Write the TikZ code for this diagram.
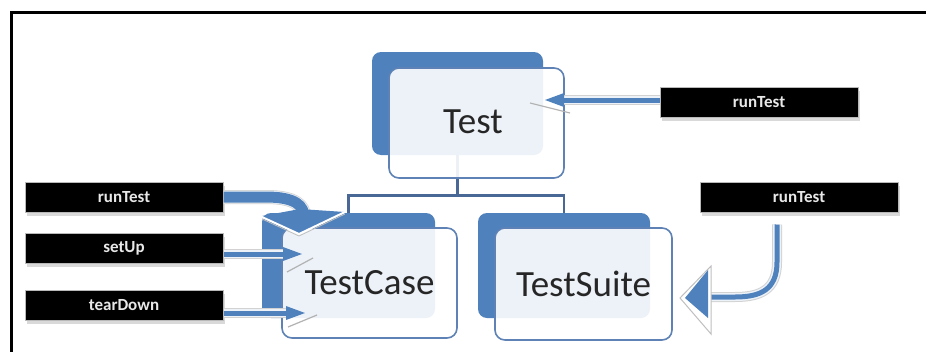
\documentclass[tikz,border=0pt]{standalone}
\usepackage{fontspec}
\setmainfont{Carlito}
\usetikzlibrary{calc,shadows}
\definecolor{obl}{HTML}{4F81BD}
\definecolor{oline}{HTML}{5E82B5}
\definecolor{connc}{HTML}{4A6896}
\begin{document}
\begin{tikzpicture}[x=1pt,y=-1pt,
  backbox/.style={fill=obl, draw=none, rounded corners=9pt, inner sep=0pt},
  frontbox/.style={fill=white, fill opacity=0.9, text opacity=1, draw=oline, line width=1.6pt,
     rounded corners=10pt, inner sep=0pt, minimum width=175pt, minimum height=110pt,
     font=\fontsize{37}{37}\selectfont, text=black!85},
  lbl/.style={fill=black, draw=gray!55, line width=1pt, minimum width=198pt, minimum height=30pt,
     inner sep=0pt, text=white!82!gray, font=\fontsize{17}{17}\selectfont\bfseries,
     drop shadow={shadow xshift=2pt, shadow yshift=-4pt, fill=gray!30, opacity=1}},
  connline/.style={draw=connc, line width=2.6pt},
  shaftO/.style={draw=gray!35, line width=10pt},
  shaftW/.style={draw=white!90!obl, line width=8pt},
  shaftB/.style={draw=obl, line width=5pt},
  headB/.style={fill=obl, draw=none},
  artif/.style={draw=gray!60, line width=1.2pt}
]
\useasboundingbox (0,0) rectangle (926,351);
\fill[white] (0,0) rectangle (926,351);
% frame
\draw[line width=3pt, line cap=rect] (11,351) -- (11,12) -- (926,12);

% back boxes
\node[backbox, minimum width=171pt, minimum height=103pt] (testB) at (457.5,103.5) {};
\node[backbox, minimum width=173pt, minimum height=105pt] (tcB) at (348.5,265.5) {};
\node[backbox, minimum width=172pt, minimum height=105pt] (tsB) at (564,265.5) {};

% connectors
\draw[connline] (testB.south) -- ++(0,40) -| (tcB.north);
\draw[connline] (testB.south) ++(0,40) -| (tsB.north);

% front boxes
\node[frontbox] (test) at (476.5,123) {\raisebox{3pt}{Test\hspace{7pt}}};
\node[frontbox] (tc) at (369.5,283) {TestCase};
\node[frontbox, minimum width=177pt, minimum height=112pt] (ts) at (583.5,284) {TestSuite};

% labels
\node[lbl] (lt) at (759,102) {runTest};
\node[lbl] (lts) at (799,197) {runTest};
\node[lbl] (lr) at (124,197) {runTest};
\node[lbl] (lsu) at (124,248) {setUp};
\node[lbl] (ltd) at (124,305) {tearDown};

% tip coordinates
\coordinate (ttip) at (545,100);
\coordinate (sutip) at (302,254);
\coordinate (tdtip) at (305,313);

% straight arrow into Test
\foreach \s in {shaftO,shaftW,shaftB}
  \draw[\s] (lt.west |- ttip) -- ($(ttip)+(16,0)$);
\fill[headB] (ttip) -- ++(19,-7) -- ++(0,14) -- cycle;
\draw[artif] ($(ttip)+(-15,3)$) -- ($(ttip)+(25,13)$);

% setUp arrow
\foreach \s in {shaftO,shaftW,shaftB}
  \draw[\s] (lsu.east |- sutip) -- ($(sutip)+(-16,0)$);
\fill[headB] (sutip) -- ++(-19,-7) -- ++(0,14) -- cycle;
\draw[artif] ($(sutip)+(-15,18)$) -- ($(sutip)+(11,4)$);

% tearDown arrow
\foreach \s in {shaftO,shaftW,shaftB}
  \draw[\s] (ltd.east |- tdtip) -- ($(tdtip)+(-16,0)$);
\fill[headB] (tdtip) -- ++(-19,-7) -- ++(0,14) -- cycle;
\draw[artif] ($(tdtip)+(-17,14)$) -- ($(tdtip)+(12,2)$);

% curved runTest arrow into TestCase
\coordinate (rtip) at (299,234);
\draw[draw=gray!35, line width=14pt] (lr.east) -- (266,197) .. controls (296,197) and (304,206) .. (304,217);
\draw[draw=white!90!obl, line width=12.5pt] (lr.east) -- (266,197) .. controls (296,197) and (304,206) .. (304,217);
\draw[draw=obl, line width=11pt] (lr.east) -- (266,197) .. controls (296,197) and (304,206) .. (304,217);
\fill[obl] (262,216) -- (rtip) -- (345,212) -- (300,209) -- cycle;
\draw[white, line width=2pt] (262,217) -- (rtip) -- (345,212);
\draw[gray!50, line width=0.8pt] (262,219) -- ($(rtip)+(0,2)$) -- (345,214);

% runTest arrow into TestSuite
\coordinate (tstip) at (680,298);
\coordinate (tsS) at ($(lts.south west)!0.39!(lts.south east)$);
\foreach \s in {shaftO,shaftW,shaftB}
  \draw[\s] ($(tsS)+(0,12)$) -- (777,262) .. controls (777,290) and (760,297) .. (735,297) -- (706,297);
\filldraw[fill=white, draw=gray!50, line width=1pt] (tstip) -- (711,266) -- (711,334) -- cycle;
\fill[obl] ($(tstip)+(5,0)$) -- (708,270) -- (708,318) -- cycle;
\end{tikzpicture}
\end{document}
